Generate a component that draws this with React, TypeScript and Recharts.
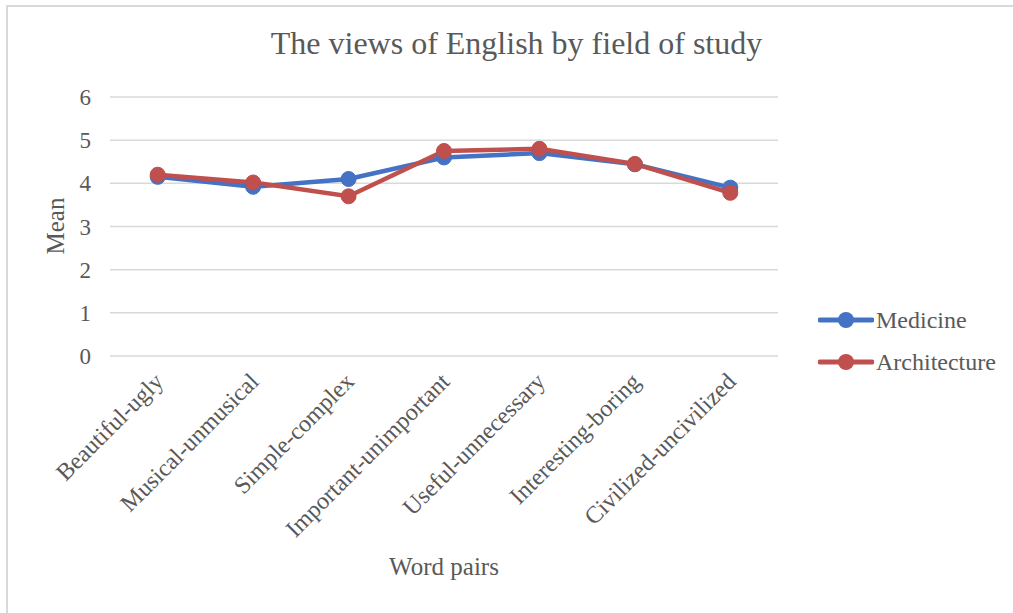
import React from 'react';
import { LineChart, Line, XAxis, YAxis, CartesianGrid } from 'recharts';

const wordPairs = [
  'Beautiful-ugly',
  'Musical-unmusical',
  'Simple-complex',
  'Important-unimportant',
  'Useful-unnecessary',
  'Interesting-boring',
  'Civilized-uncivilized',
];
const medicine = [4.15, 3.92, 4.1, 4.6, 4.7, 4.44, 3.9];
const architecture = [4.2, 4.02, 3.7, 4.75, 4.8, 4.45, 3.78];
const meanTicks = [0, 1, 2, 3, 4, 5, 6];

const data = wordPairs.map((name, i) => ({
  name,
  medicine: medicine[i],
  architecture: architecture[i],
}));

const FONT = '"Liberation Serif", "Times New Roman", serif';
const TEXT = '#595959';
const BLUE = '#4472C4';
const RED = '#C0504D';

// category labels slanted at 45 degrees, ending just right of the tick
const RotatedTick = ({ x, y, payload }: { x?: number; y?: number; payload?: { value: string } }) => {
  const px = (x ?? 0) + 7;
  const py = (y ?? 0) + 27;
  return (
    <text
      x={px}
      y={py}
      transform={`rotate(-45 ${px} ${py})`}
      textAnchor="end"
      fontSize={24}
      fill={TEXT}
      fontFamily={FONT}
    >
      {payload?.value}
    </text>
  );
};

const LegendRow = ({ color, label, top }: { color: string; label: string; top: number }) => (
  <div style={{ position: 'absolute', left: 818, top, height: 30, display: 'flex', alignItems: 'center' }}>
    <svg width={56} height={20}>
      <line x1={2} y1={10} x2={54} y2={10} stroke={color} strokeWidth={5} strokeLinecap="round" />
      <circle cx={28} cy={10} r={8} fill={color} />
    </svg>
    <span style={{ fontSize: 24, color: TEXT, marginLeft: 2 }}>{label}</span>
  </div>
);

export default function App() {
  return (
    <div
      style={{
        position: 'absolute',
        left: 0,
        top: 0,
        width: 1013,
        height: 613,
        background: '#fff',
        fontFamily: FONT,
        overflow: 'hidden',
      }}
    >
      <div
        style={{
          position: 'absolute',
          left: 6,
          top: 5,
          width: 1020,
          height: 620,
          border: '2px solid #d9d9d9',
          boxSizing: 'border-box',
        }}
      />
      <LineChart
        width={1013}
        height={613}
        data={data}
        margin={{ top: 97, right: 235, bottom: 57, left: 0 }}
        style={{ position: 'absolute', left: 0, top: 0 }}
      >
        <CartesianGrid vertical={false} stroke="#d9d9d9" strokeWidth={1.5} />
        <XAxis
          dataKey="name"
          axisLine={false}
          tickLine={false}
          tickSize={0}
          tickMargin={0}
          height={200}
          interval={0}
          padding={{ left: 47.7, right: 47.7 }}
          tick={<RotatedTick />}
        />
        <YAxis
          domain={[0, 6]}
          ticks={meanTicks}
          width={110}
          axisLine={false}
          tickLine={false}
          tickSize={0}
          tickMargin={19}
          tick={{ fontSize: 23, fill: TEXT, fontFamily: FONT }}
        />
        <Line
          dataKey="medicine"
          stroke={BLUE}
          strokeWidth={4.5}
          dot={{ r: 7.5, fill: BLUE, stroke: BLUE, strokeWidth: 1 }}
          isAnimationActive={false}
        />
        <Line
          dataKey="architecture"
          stroke={RED}
          strokeWidth={4.5}
          dot={{ r: 7.5, fill: RED, stroke: RED, strokeWidth: 1 }}
          isAnimationActive={false}
        />
      </LineChart>
      <div
        style={{
          position: 'absolute',
          left: 10,
          width: 1013,
          top: 25,
          textAlign: 'center',
          fontSize: 32,
          color: TEXT,
          whiteSpace: 'nowrap',
        }}
      >
        The views of English by field of study
      </div>
      <div
        style={{
          position: 'absolute',
          left: 56,
          top: 226,
          transform: 'translate(-50%, -50%) rotate(-90deg)',
          fontSize: 25,
          color: TEXT,
          whiteSpace: 'nowrap',
        }}
      >
        Mean
      </div>
      <div
        style={{
          position: 'absolute',
          left: 444,
          top: 553,
          transform: 'translateX(-50%)',
          fontSize: 25,
          color: TEXT,
          whiteSpace: 'nowrap',
        }}
      >
        Word pairs
      </div>
      <LegendRow color={BLUE} label="Medicine" top={305} />
      <LegendRow color={RED} label="Architecture" top={347} />
    </div>
  );
}
